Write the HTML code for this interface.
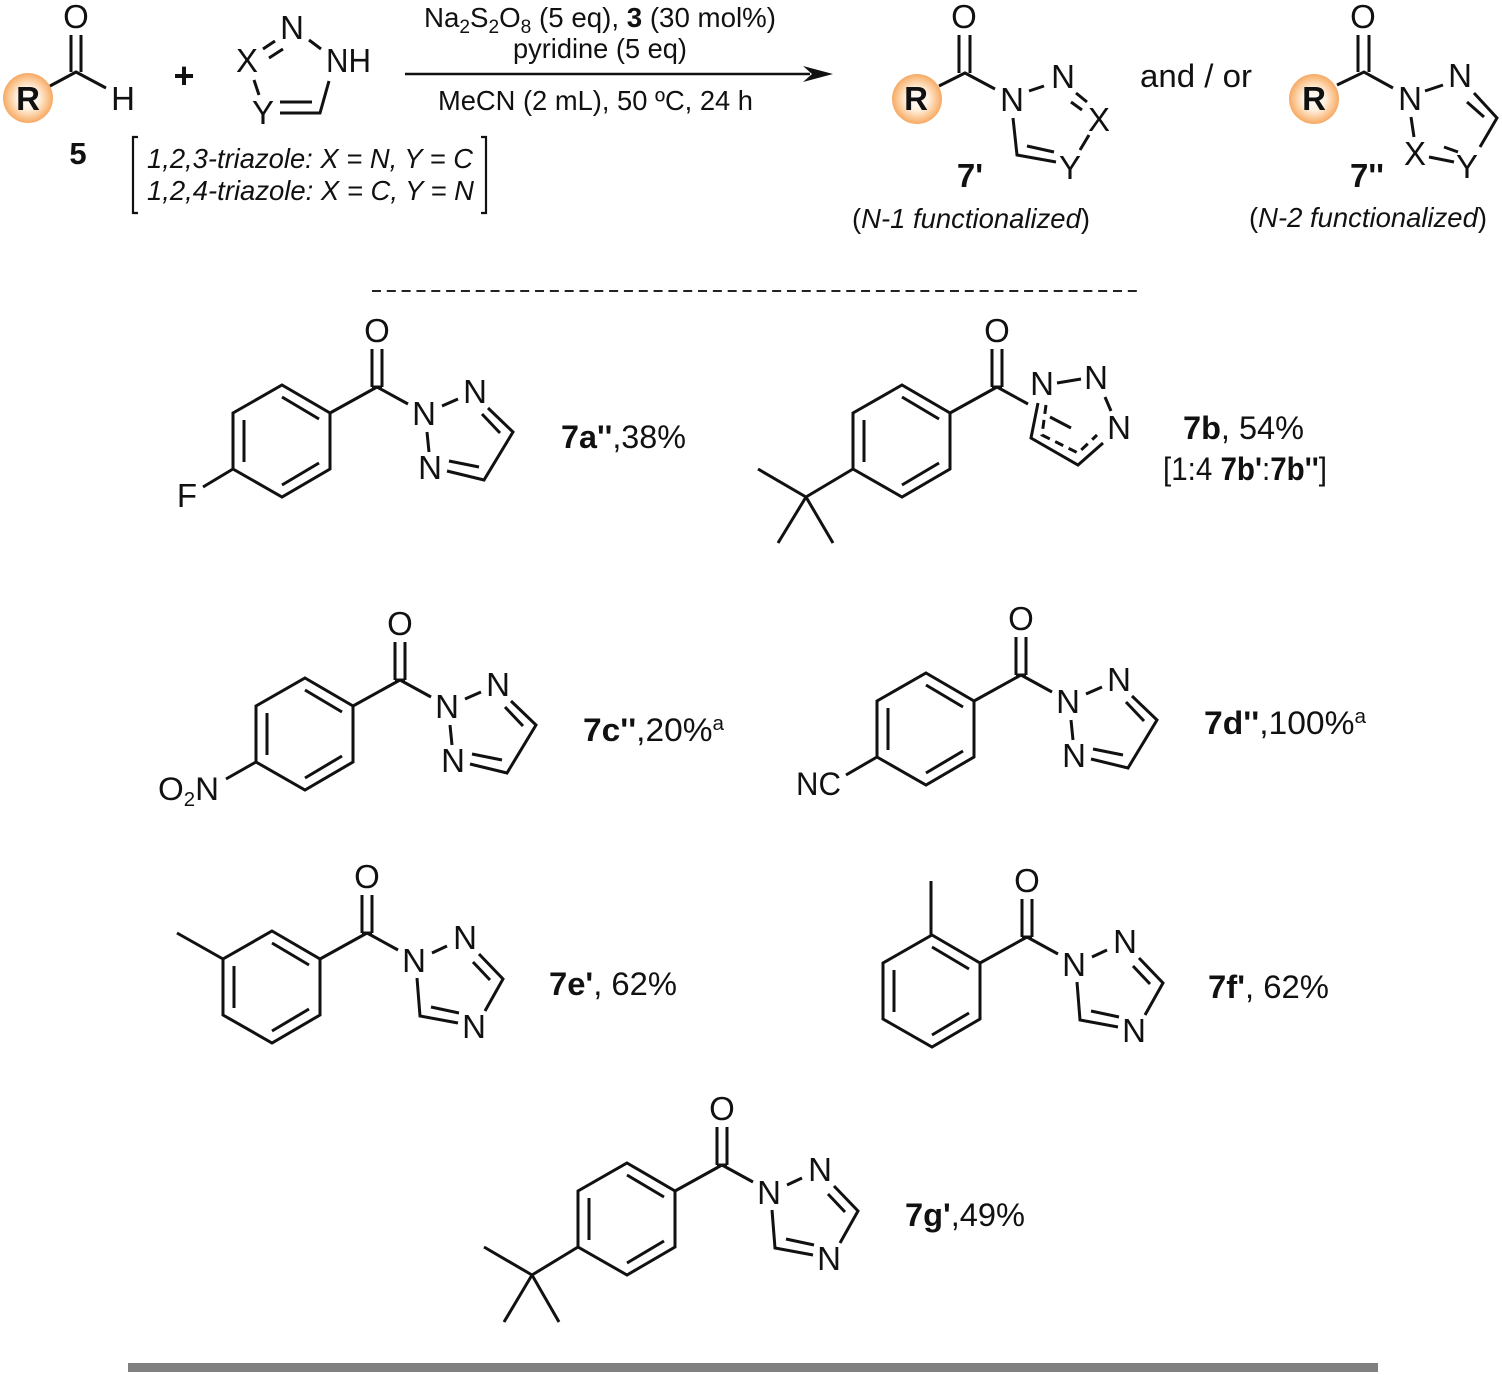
<!DOCTYPE html>
<html><head><meta charset="utf-8"><style>
html,body{margin:0;padding:0;background:#fff}
svg{display:block}
text{font-family:"Liberation Sans",sans-serif;fill:#111}
.a{font-size:33px;text-anchor:middle}
.t{font-size:32.5px}
.r{font-size:27.5px}
.i{font-size:27.5px;font-style:italic}
.b{font-weight:bold}
.l{stroke:#111;stroke-width:3;fill:none;stroke-linejoin:miter}
</style></head><body>
<svg width="1502" height="1375" viewBox="0 0 1502 1375" xmlns="http://www.w3.org/2000/svg">
<defs>
<radialGradient id="o" cx="50%" cy="50%" r="50%"><stop offset="0" stop-color="#fff"/><stop offset=".45" stop-color="#fff0df"/><stop offset=".8" stop-color="#fbc48e"/><stop offset="1" stop-color="#f6a964"/></radialGradient>
<path id="benz" class="l" d="M-95-2L-47 26V82L-95 110L-144 82V26ZM-95 10L-58 32M-58 76L-95 98M-133 33V75M0 0L-47 26M-5 0V-38M5 0V-38M-5 0H5M0 0L31 17"/>
<path id="tri2" class="l" d="M65 19L81 12M111 21L136 45L107 93L70 84M105 27L123 46M102 80L72 74M50 45L52 65"/>
<path id="tri4" class="l" d="M65 20L80 13M112 21L136 46L118 78M91 90L53 83L50 45M106 29L123 47M92 80L64 74"/>
</defs>

<!-- Reactants -->
<circle cx="28" cy="98" r="25" fill="url(#o)"/>
<text class="a b" x="28" y="110">R</text>
<path class="l" d="M50 86L76 72L106 88M71 72V35M81 72V35"/>
<text class="a" x="76" y="28">O</text>
<text class="a" x="123" y="110">H</text>
<text class="a b" x="78" y="164" style="font-size:31px">5</text>
<text class="b" x="184" y="88" font-size="36" text-anchor="middle">+</text>
<path class="l" d="M309 40L321 49M263 49L275 41M269 58L283 49M254 80L259 95M280 113H320L329 81M280 102H312"/>
<text class="a" x="292" y="39">N</text>
<text class="a" x="247" y="72">X</text>
<text class="a" x="326" y="72" style="text-anchor:start" textLength="45" lengthAdjust="spacingAndGlyphs">NH</text>
<text class="a" x="263" y="124">Y</text>
<path d="M138 137H133V213H138M481 137H486V213H481" fill="none" stroke="#111" stroke-width="2.2"/>
<text class="i" x="147" y="168" textLength="326" lengthAdjust="spacingAndGlyphs">1,2,3-triazole: X = N, Y = C</text>
<text class="i" x="147" y="200" textLength="327" lengthAdjust="spacingAndGlyphs">1,2,4-triazole: X = C, Y = N</text>

<!-- Arrow -->
<text class="r" x="424" y="27" textLength="352" lengthAdjust="spacingAndGlyphs">Na<tspan font-size="19" dy="6">2</tspan><tspan dy="-6">S</tspan><tspan font-size="19" dy="6">2</tspan><tspan dy="-6">O</tspan><tspan font-size="19" dy="6">8</tspan><tspan dy="-6"> (5 eq), </tspan><tspan class="b">3</tspan> (30 mol%)</text>
<text class="r" x="513" y="58" textLength="174" lengthAdjust="spacingAndGlyphs">pyridine (5 eq)</text>
<path d="M405 74H810" stroke="#111" stroke-width="2.4"/>
<path d="M833 74L803 66L812 74L803 82Z" fill="#111"/>
<text class="r" x="438" y="110" textLength="315" lengthAdjust="spacingAndGlyphs">MeCN (2 mL), 50 ºC, 24 h</text>

<!-- 7' -->
<circle cx="917" cy="99" r="25" fill="url(#o)"/>
<text class="a b" x="916" y="110">R</text>
<path class="l" d="M939 86L965 73L995 89M959 73V35M970 73V35M1029 91L1044 86M1071 102L1082 110M1076 93L1087 102M1089 135L1080 150M1056 162L1017 155L1013 118M1027 146L1054 152"/>
<text class="a" x="964" y="28">O</text>
<text class="a" x="1012" y="111">N</text>
<text class="a" x="1063" y="88">N</text>
<text class="a" x="1099" y="131">X</text>
<text class="a" x="1070" y="179">Y</text>
<text class="a b" x="970" y="187">7'</text>
<text class="r" x="852" y="228" textLength="238" lengthAdjust="spacingAndGlyphs">(<tspan class="i">N-1 functionalized</tspan>)</text>
<text class="t" x="1140" y="87" textLength="112" lengthAdjust="spacingAndGlyphs">and / or</text>

<!-- 7'' -->
<circle cx="1314" cy="99" r="25" fill="url(#o)"/>
<text class="a b" x="1314" y="110">R</text>
<path class="l" d="M1337 85L1364 72L1393 88M1358 72V35M1369 72V35M1425 91L1443 85M1474 93L1497 118L1480 147M1467 102L1484 117M1429 157L1454 162M1444 147L1458 152M1411 117L1414 137"/>
<text class="a" x="1363" y="28">O</text>
<text class="a" x="1410" y="110">N</text>
<text class="a" x="1460" y="87">N</text>
<text class="a" x="1415" y="165">X</text>
<text class="a" x="1467" y="178">Y</text>
<text class="a b" x="1367" y="187">7''</text>
<text class="r" x="1249" y="227" textLength="238" lengthAdjust="spacingAndGlyphs">(<tspan class="i">N-2 functionalized</tspan>)</text>

<path d="M372 291H1137" stroke="#222" stroke-width="2" stroke-dasharray="9 5.82"/>

<!-- 7a -->
<g transform="translate(377 387)"><use href="#benz"/><use href="#tri2"/><path class="l" d="M-144 82L-174 100"/>
<text class="a" x="0" y="-45">O</text><text class="a" x="47" y="38">N</text><text class="a" x="98" y="16">N</text><text class="a" x="53" y="92">N</text><text class="a" x="-190" y="120">F</text></g>
<text class="t" x="561" y="448" textLength="125" lengthAdjust="spacingAndGlyphs"><tspan class="b">7a''</tspan>,38%</text>

<!-- 7b -->
<g transform="translate(997 387)"><use href="#benz"/><path class="l" d="M-144 82L-191 110M-191 110L-239 82M-191 110L-219 156M-191 110L-164 156"/>
<text class="a" x="0" y="-45">O</text></g>
<path class="l" d="M1057 383L1081 379M1105 397L1111 411M1103 443L1078 465L1031 438L1038 403M1050 417L1071 428"/>
<path class="l" d="M1046 405L1042 435L1078 453L1097 435" stroke-dasharray="9 6"/>
<text class="a" x="1042" y="395">N</text><text class="a" x="1096" y="389">N</text><text class="a" x="1119" y="439">N</text>
<text class="t" x="1183" y="439" textLength="121" lengthAdjust="spacingAndGlyphs"><tspan class="b">7b</tspan>, 54%</text>
<text class="t" x="1163" y="480" textLength="164" lengthAdjust="spacingAndGlyphs">[1:4 <tspan class="b">7b'</tspan>:<tspan class="b">7b''</tspan>]</text>

<!-- 7c -->
<g transform="translate(400 680)"><use href="#benz"/><use href="#tri2"/><path class="l" d="M-144 82L-174 99"/>
<text class="a" x="0" y="-45">O</text><text class="a" x="47" y="38">N</text><text class="a" x="98" y="16">N</text><text class="a" x="53" y="92">N</text></g>
<text class="t" x="158" y="800" textLength="61" lengthAdjust="spacingAndGlyphs">O<tspan font-size="20" dy="6">2</tspan><tspan dy="-6">N</tspan></text>
<text class="t" x="583" y="741" textLength="141" lengthAdjust="spacingAndGlyphs"><tspan class="b">7c''</tspan>,20%<tspan font-size="20" dy="-11">a</tspan></text>

<!-- 7d -->
<g transform="translate(1021 675)"><use href="#benz"/><use href="#tri2"/><path class="l" d="M-144 82L-175 100"/>
<text class="a" x="0" y="-45">O</text><text class="a" x="47" y="38">N</text><text class="a" x="98" y="16">N</text><text class="a" x="53" y="92">N</text></g>
<text class="t" x="796" y="795" textLength="45" lengthAdjust="spacingAndGlyphs">NC</text>
<text class="t" x="1204" y="734" textLength="162" lengthAdjust="spacingAndGlyphs"><tspan class="b">7d''</tspan>,100%<tspan font-size="20" dy="-11">a</tspan></text>

<!-- 7e -->
<g transform="translate(367 933)"><use href="#benz"/><use href="#tri4"/><path class="l" d="M-144 26L-190 0"/>
<text class="a" x="0" y="-45">O</text><text class="a" x="47" y="39">N</text><text class="a" x="98" y="16">N</text><text class="a" x="107" y="105">N</text></g>
<text class="t" x="549" y="995" textLength="128" lengthAdjust="spacingAndGlyphs"><tspan class="b">7e'</tspan>, 62%</text>

<!-- 7f -->
<g transform="translate(1027 937)"><use href="#benz"/><use href="#tri4"/><path class="l" d="M-96 -2V-56"/>
<text class="a" x="0" y="-45">O</text><text class="a" x="47" y="39">N</text><text class="a" x="98" y="16">N</text><text class="a" x="107" y="105">N</text></g>
<text class="t" x="1208" y="998" textLength="121" lengthAdjust="spacingAndGlyphs"><tspan class="b">7f'</tspan>, 62%</text>

<!-- 7g -->
<g transform="translate(722 1165)"><use href="#benz"/><use href="#tri4"/><path class="l" d="M-144 82L-190 110M-190 110L-238 82M-190 110L-218 157M-190 110L-163 157"/>
<text class="a" x="0" y="-45">O</text><text class="a" x="47" y="39">N</text><text class="a" x="98" y="16">N</text><text class="a" x="107" y="105">N</text></g>
<text class="t" x="905" y="1226" textLength="120" lengthAdjust="spacingAndGlyphs"><tspan class="b">7g'</tspan>,49%</text>

<rect x="128" y="1363" width="1250" height="9" fill="#808080"/>
</svg>
</body></html>
